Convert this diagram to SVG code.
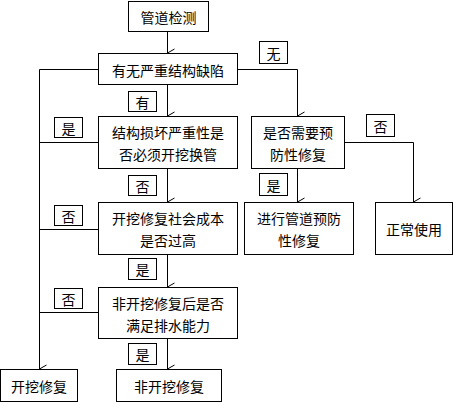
<svg xmlns="http://www.w3.org/2000/svg" width="453" height="402" viewBox="0 0 453 402">
<defs>
<marker id="v" markerWidth="10" markerHeight="10" refX="5" refY="8" orient="auto" markerUnits="userSpaceOnUse" viewBox="0 0 10 10">
<path d="M1,1 L5,8 L9,1" fill="none" stroke="#000" stroke-width="1"/>
</marker>
<style>
rect{fill:#fff;stroke:#000;stroke-width:1}
text{font-family:"Noto Sans CJK SC","Noto Sans",sans-serif;font-size:14px;text-anchor:middle;dominant-baseline:central;fill:#000}
.c line,.c polyline{stroke:#000;stroke-width:1;fill:none}
.a{marker-end:url(#v)}
</style>
</defs>
<rect x="0" y="0" width="453" height="402" style="fill:#fff;stroke:none"/>
<g class="c" id="connectors">
<line class="a" x1="167.5" y1="31.5" x2="167.5" y2="53"/>
<line class="a" x1="167.5" y1="84.5" x2="167.5" y2="116"/>
<line class="a" x1="167.5" y1="168.5" x2="167.5" y2="202"/>
<line class="a" x1="167.5" y1="254.5" x2="167.5" y2="287"/>
<line class="a" x1="167.5" y1="338.5" x2="167.5" y2="369"/>
<polyline points="98.5,69.5 39.5,69.5"/>
<line class="a" x1="39.5" y1="69.5" x2="39.5" y2="369"/>
<line x1="98.5" y1="142.5" x2="39.5" y2="142.5"/>
<line x1="98.5" y1="229.5" x2="39.5" y2="229.5"/>
<line x1="98.5" y1="312.5" x2="39.5" y2="312.5"/>
<polyline class="a" points="237.5,69.5 297.5,69.5 297.5,116"/>
<line class="a" x1="297.5" y1="168.5" x2="297.5" y2="202"/>
<polyline class="a" points="344.5,142.5 413.5,142.5 413.5,202"/>
</g>
<g id="n1"><rect x="128.5" y="1.5" width="80" height="30"/><text x="168.5" y="17">管道检测</text></g>
<g id="n2"><rect x="98.5" y="53.5" width="139" height="31"/><text x="168" y="70">有无严重结构缺陷</text></g>
<g id="n3"><rect x="98.5" y="116.5" width="139" height="52"/><text x="168" y="132">结构损坏严重性是</text><text x="168" y="154">否必须开挖换管</text></g>
<g id="n4"><rect x="98.5" y="202.5" width="139" height="52"/><text x="168" y="218">开挖修复社会成本</text><text x="168" y="240">是否过高</text></g>
<g id="n5"><rect x="98.5" y="287.5" width="139" height="51"/><text x="168" y="303">非开挖修复后是否</text><text x="168" y="325">满足排水能力</text></g>
<g id="n6"><rect x="0.5" y="369.5" width="77" height="32"/><text x="39" y="386">开挖修复</text></g>
<g id="n7"><rect x="116.5" y="369.5" width="105" height="32"/><text x="169" y="386">非开挖修复</text></g>
<g id="n8"><rect x="251.5" y="116.5" width="93" height="52"/><text x="298" y="132">是否需要预</text><text x="298" y="154">防性修复</text></g>
<g id="n9"><rect x="244.5" y="202.5" width="109" height="52"/><text x="299" y="218">进行管道预防</text><text x="299" y="240">性修复</text></g>
<g id="n10"><rect x="375.5" y="202.5" width="77" height="52"/><text x="414" y="229">正常使用</text></g>
<g id="labels">
<g id="l1"><rect x="128.5" y="91.5" width="28" height="20"/><text x="142.5" y="101.5">有</text></g>
<g id="l2"><rect x="54.5" y="117.5" width="28" height="20"/><text x="68.5" y="127.5">是</text></g>
<g id="l3"><rect x="128.5" y="175.5" width="28" height="20"/><text x="142.5" y="185.5">否</text></g>
<g id="l4"><rect x="54.5" y="205.5" width="28" height="20"/><text x="68.5" y="215.5">否</text></g>
<g id="l5"><rect x="128.5" y="258.5" width="28" height="21"/><text x="142.5" y="269">是</text></g>
<g id="l6"><rect x="54.5" y="288.5" width="28" height="20"/><text x="68.5" y="298.5">否</text></g>
<g id="l7"><rect x="128.5" y="343.5" width="28" height="21"/><text x="142.5" y="354">是</text></g>
<g id="l8"><rect x="259.5" y="41.5" width="28" height="22"/><text x="273.5" y="52.5">无</text></g>
<g id="l9"><rect x="366.5" y="114.5" width="28" height="22"/><text x="380.5" y="125.5">否</text></g>
<g id="l10"><rect x="259.5" y="173.5" width="28" height="22"/><text x="273.5" y="184.5">是</text></g>
</g>
</svg>
